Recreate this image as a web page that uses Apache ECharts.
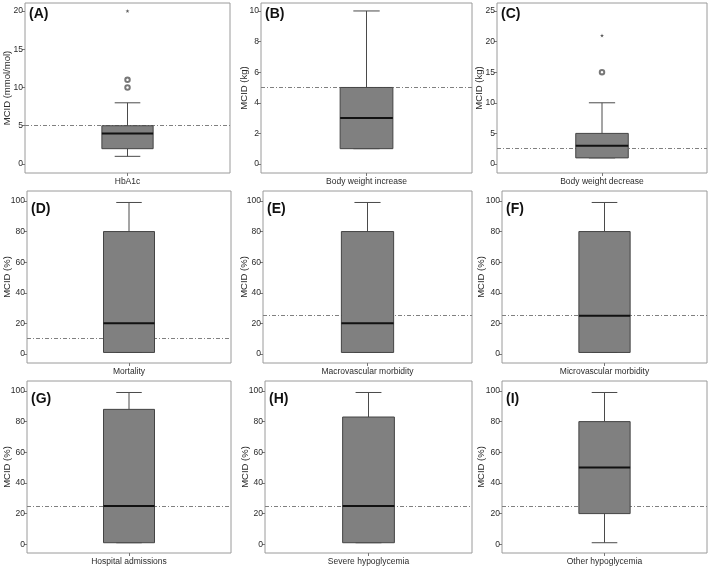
<!DOCTYPE html>
<html>
<head>
<meta charset="utf-8">
<style>
  html, body { margin: 0; padding: 0; background: #fff; }
  #chart { width: 709px; height: 569px; }
</style>
<script src="https://cdn.jsdelivr.net/npm/echarts@6/dist/echarts.min.js"></script>
</head>
<body>
<div id="chart"></div>
<script>
// ---- data ----
const panelLetters = ['(A)', '(B)', '(C)', '(D)', '(E)', '(F)', '(G)', '(H)', '(I)'];
const categories = [
  'HbA1c', 'Body weight increase', 'Body weight decrease',
  'Mortality', 'Macrovascular morbidity', 'Microvascular morbidity',
  'Hospital admissions', 'Severe hypoglycemia', 'Other hypoglycemia'
];
const yAxisNames = [
  'MCID (mmol/mol)', 'MCID (kg)', 'MCID (kg)',
  'MCID (%)', 'MCID (%)', 'MCID (%)',
  'MCID (%)', 'MCID (%)', 'MCID (%)'
];
// [min, Q1, median, Q3, max]
const boxStats = [
  [1, 2, 4, 5, 8],
  [1, 1, 3, 5, 10],
  [1, 1, 3, 5, 10],
  [1, 1, 20, 80, 99],
  [1, 1, 20, 80, 99],
  [1, 1, 25, 80, 99],
  [1, 1, 25, 88, 99],
  [1, 1, 25, 83, 99],
  [1, 20, 50, 80, 99]
];
const mildOutliers = [[10, 11], [], [15], [], [], [], [], [], []];
const extremeOutliers = [[20], [], [21], [], [], [], [], [], []];
const referenceValues = [5, 5, 2.5, 10, 25, 25, 25, 25, 25];
const pctTicks = [0, 20, 40, 60, 80, 100];
const yTickValues = [
  [0, 5, 10, 15, 20], [0, 2, 4, 6, 8, 10], [0, 5, 10, 15, 20, 25],
  pctTicks, pctTicks, pctTicks, pctTicks, pctTicks, pctTicks
];

// ---- layout: [left, top, width, height, name distance] ----
const panelBoxes = [
  [25, 3, 205, 170, 18], [261, 3, 211, 170, 16.5], [497, 3, 210, 170, 17.3],
  [27, 191, 204, 172, 20], [263, 191, 209, 172, 18.5], [502, 191, 205, 172, 20.3],
  [27, 381, 204, 172, 20], [265, 381, 207, 172, 19.3], [502, 381, 205, 172, 20.3]
];
const yRanges = [
  [-1.18, 21.05], [-0.59, 10.52], [-1.47, 26.3],
  [-5.9, 106.5], [-5.9, 106.5], [-5.9, 106.5],
  [-5.7, 106.5], [-5.7, 106.5], [-5.7, 106.5]
];
const letterTops = [7, 202, 392];

const FONT = '"Liberation Sans", Arial, sans-serif';
const TEXT = '#2b2b2b';

function renderBox(params, api) {
  const cat = api.value(0);
  const [pMin, pQ1, pMed, pQ3, pMax] = [1, 2, 3, 4, 5].map((i) => api.coord([cat, api.value(i)]));
  const cx = pMin[0];
  const bw = api.size([1, 0])[0] * 0.25;
  const cap = bw / 2;
  const whisker = { stroke: '#4a4a4a', lineWidth: 1 };
  return {
    type: 'group',
    children: [
      { type: 'line', shape: { x1: cx, y1: pQ3[1], x2: cx, y2: pMax[1] }, style: whisker },
      { type: 'line', shape: { x1: cx, y1: pQ1[1], x2: cx, y2: pMin[1] }, style: whisker },
      { type: 'line', shape: { x1: cx - cap / 2, y1: pMax[1], x2: cx + cap / 2, y2: pMax[1] }, style: whisker },
      { type: 'line', shape: { x1: cx - cap / 2, y1: pMin[1], x2: cx + cap / 2, y2: pMin[1] }, style: whisker },
      {
        type: 'rect',
        shape: { x: cx - bw / 2, y: pQ3[1], width: bw, height: pQ1[1] - pQ3[1] },
        style: { fill: '#808080', stroke: '#444', lineWidth: 1 }
      },
      { type: 'line', shape: { x1: cx - bw / 2, y1: pMed[1], x2: cx + bw / 2, y2: pMed[1] }, style: { stroke: '#111', lineWidth: 2 } }
    ]
  };
}

const grid = [], xAxis = [], yAxis = [], series = [], title = [];

panelBoxes.forEach((b, i) => {
  const [left, top, width, height, nameDist] = b;
  grid.push({
    left, top, width, height,
    show: true, borderColor: '#9a9a9a', borderWidth: 1,
    containLabel: false, outerBoundsMode: 'none'
  });
  title.push({
    text: panelLetters[i],
    left: left + 4,
    top: letterTops[Math.floor(i / 3)],
    padding: 0,
    textStyle: { fontFamily: FONT, fontSize: 14, fontWeight: 'bold', color: '#111' }
  });
  xAxis.push({
    type: 'category',
    gridIndex: i,
    data: [categories[i]],
    axisLine: { show: false, onZero: false },
    axisTick: { show: true, alignWithLabel: true, length: 3, lineStyle: { color: '#777' } },
    axisLabel: { fontFamily: FONT, fontSize: 8.5, color: TEXT, margin: 4 },
    splitLine: { show: false }
  });
  yAxis.push({
    type: 'value',
    gridIndex: i,
    min: yRanges[i][0],
    max: yRanges[i][1],
    name: yAxisNames[i],
    nameLocation: 'middle',
    nameMoveOverlap: false,
    nameGap: nameDist - 5,
    nameTextStyle: { fontFamily: FONT, fontSize: 9.5, color: TEXT },
    axisLine: { show: false, onZero: false },
    axisTick: { show: true, length: 3, customValues: yTickValues[i], lineStyle: { color: '#777' } },
    axisLabel: { fontFamily: FONT, fontSize: 8.5, color: TEXT, margin: 2, customValues: yTickValues[i] },
    splitLine: { show: false }
  });
  series.push({
    type: 'custom',
    xAxisIndex: i,
    yAxisIndex: i,
    z: 3,
    silent: true,
    renderItem: renderBox,
    encode: { x: 0, y: [1, 2, 3, 4, 5] },
    data: [[0].concat(boxStats[i])]
  });
  series.push({
    type: 'scatter',
    xAxisIndex: i,
    yAxisIndex: i,
    z: 4,
    silent: true,
    symbol: 'emptyCircle',
    symbolSize: 4.5,
    itemStyle: { color: '#555', borderWidth: 0.8 },
    data: mildOutliers[i].map((v) => [0, v]),
    markLine: {
      silent: true,
      z: 1,
      symbol: 'none',
      label: { show: false },
      animation: false,
      lineStyle: { color: '#808080', width: 1, type: [4, 2, 1, 2] },
      data: [{ yAxis: referenceValues[i] }]
    }
  });
  series.push({
    type: 'scatter',
    xAxisIndex: i,
    yAxisIndex: i,
    z: 4,
    silent: true,
    symbol: 'path://M50,0 L61,35 L98,35 L68,57 L79,91 L50,70 L21,91 L32,57 L2,35 L39,35 Z',
    symbolSize: 4,
    itemStyle: { color: '#333' },
    data: extremeOutliers[i].map((v) => [0, v])
  });
});

const chart = echarts.init(document.getElementById('chart'), null, { renderer: 'canvas' });
chart.setOption({
  animation: false,
  backgroundColor: '#fff',
  title,
  grid,
  xAxis,
  yAxis,
  series
});
</script>
</body>
</html>
